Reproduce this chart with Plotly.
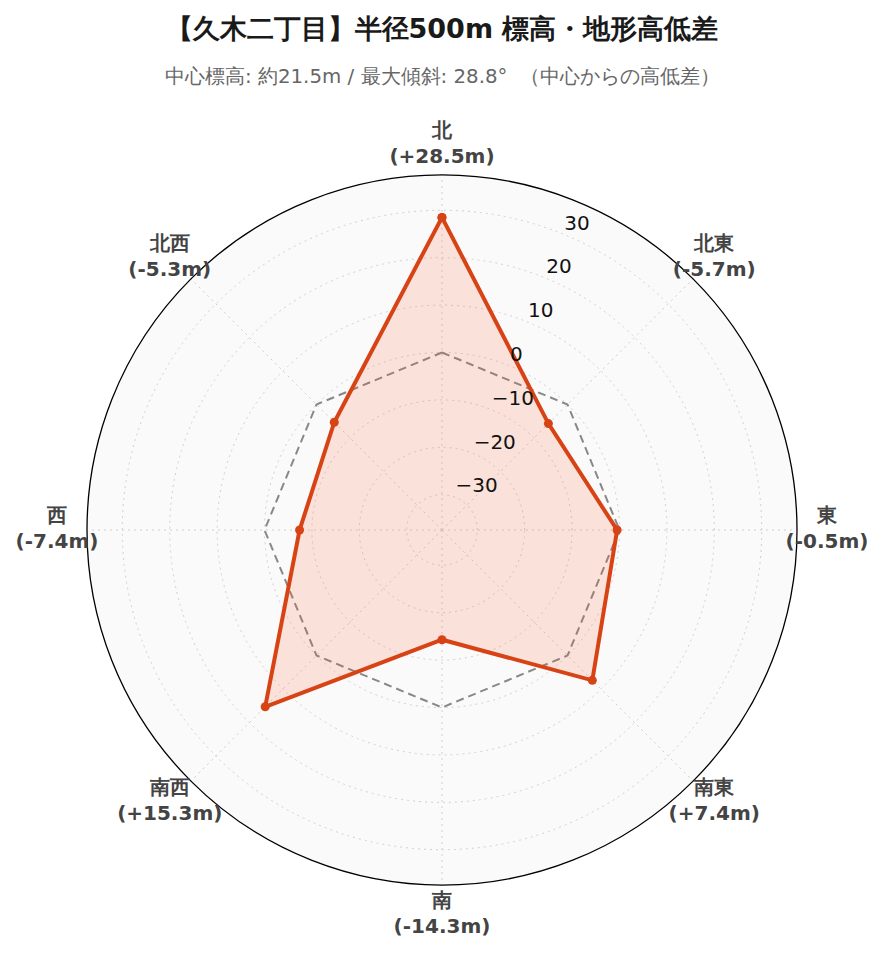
import plotly.graph_objects as go

# 8方位(方位角)と中心からの高低差 (m)
directions = ['北', '北東', '東', '南東', '南', '南西', '西', '北西']
bearings = [0, 45, 90, 135, 180, 225, 270, 315]
diffs = [28.5, -5.7, -0.5, 7.4, -14.3, 15.3, -7.4, -5.3]
zero_ref = [0, 0, 0, 0, 0, 0, 0, 0]
radial_ticks = [-30, -20, -10, 0, 10, 20, 30]

center_elev = 21.5
max_slope = 28.8
area = '久木二丁目'

rmax = max(abs(v) for v in diffs + [max_slope]) * 1.3
tick_bearing = 22.5   # 目盛りラベルを置く方位

labels = ['<b>%s</b><br><b>(%+.1fm)</b>' % (d, v) for d, v in zip(directions, diffs)]
tick_text = [('%d' % t).replace('-', '\u2212') for t in radial_ticks]

theta_closed = bearings + bearings[:1]

data = [
    go.Scatterpolar(r=zero_ref + zero_ref[:1],
                    theta=theta_closed,
                    mode='lines',
                    line=dict(color='#888888', width=2, dash='8px,5px'),
                    hoverinfo='skip',
                    showlegend=False),
    go.Scatterpolar(r=diffs + diffs[:1],
                    theta=theta_closed,
                    mode='lines+markers',
                    fill='toself',
                    fillcolor='rgba(255,87,34,0.15)',
                    line=dict(color='#D84315', width=4),
                    marker=dict(size=9, color='#D84315'),
                    text=directions + directions[:1],
                    hovertemplate='%{text}: %{r:+.1f}m<extra></extra>',
                    showlegend=False),
    # 動径の目盛りラベル
    go.Scatterpolar(r=radial_ticks,
                    theta=[tick_bearing] * len(radial_ticks),
                    mode='text',
                    text=tick_text,
                    textposition='top right',
                    textfont=dict(size=20, color='#111111'),
                    cliponaxis=False,
                    hoverinfo='skip',
                    showlegend=False),
    # 方位ラベル (外周の外側のリング)
    go.Scatterpolar(r=[1] * len(bearings),
                    theta=bearings,
                    mode='text',
                    text=labels,
                    textposition='middle center',
                    textfont=dict(size=20, color='#444444'),
                    cliponaxis=False,
                    hoverinfo='skip',
                    showlegend=False,
                    subplot='polar2'),
]

inner = [30 / 770, 740 / 770]

layout = go.Layout(
    title=dict(text='<b>【%s】半径500m 標高・地形高低差</b>' % area,
               x=0.5, xanchor='center', xref='paper',
               y=0.979, yanchor='middle', yref='container',
               font=dict(size=27, color='#1a1a1a')),
    annotations=[dict(text='中心標高: 約%.1fm / 最大傾斜: %.1f°  （中心からの高低差）'
                           % (center_elev, max_slope),
                      x=0.5, xref='paper', xanchor='center',
                      y=1.0896, yref='paper', yanchor='middle',
                      showarrow=False, font=dict(size=19.8, color='#666666'))],
    width=885, height=962,
    margin=dict(l=49, r=66, t=137, b=55),
    paper_bgcolor='white',
    font=dict(family='DejaVu Sans', color='#444444'),
    polar=dict(
        domain=dict(x=inner, y=inner),
        bgcolor='#FAFAFA',
        angularaxis=dict(direction='clockwise', rotation=90,
                         tickmode='array', tickvals=bearings,
                         showticklabels=False,
                         showline=True, linecolor='black', linewidth=1.3,
                         gridcolor='#D0D0D0', griddash='2px,4px', ticks=''),
        radialaxis=dict(range=[-rmax, rmax], tickvals=radial_ticks,
                        angle=67.5, showticklabels=False,
                        showline=False, ticks='',
                        gridcolor='#D0D0D0', griddash='2px,4px'),
    ),
    polar2=dict(
        domain=dict(x=[0, 1], y=[0, 1]),
        bgcolor='rgba(0,0,0,0)',
        angularaxis=dict(direction='clockwise', rotation=90, visible=False),
        radialaxis=dict(range=[0, 1], visible=False),
    ),
)

fig = go.Figure(data=data, layout=layout)
fig.write_html('out.html')
